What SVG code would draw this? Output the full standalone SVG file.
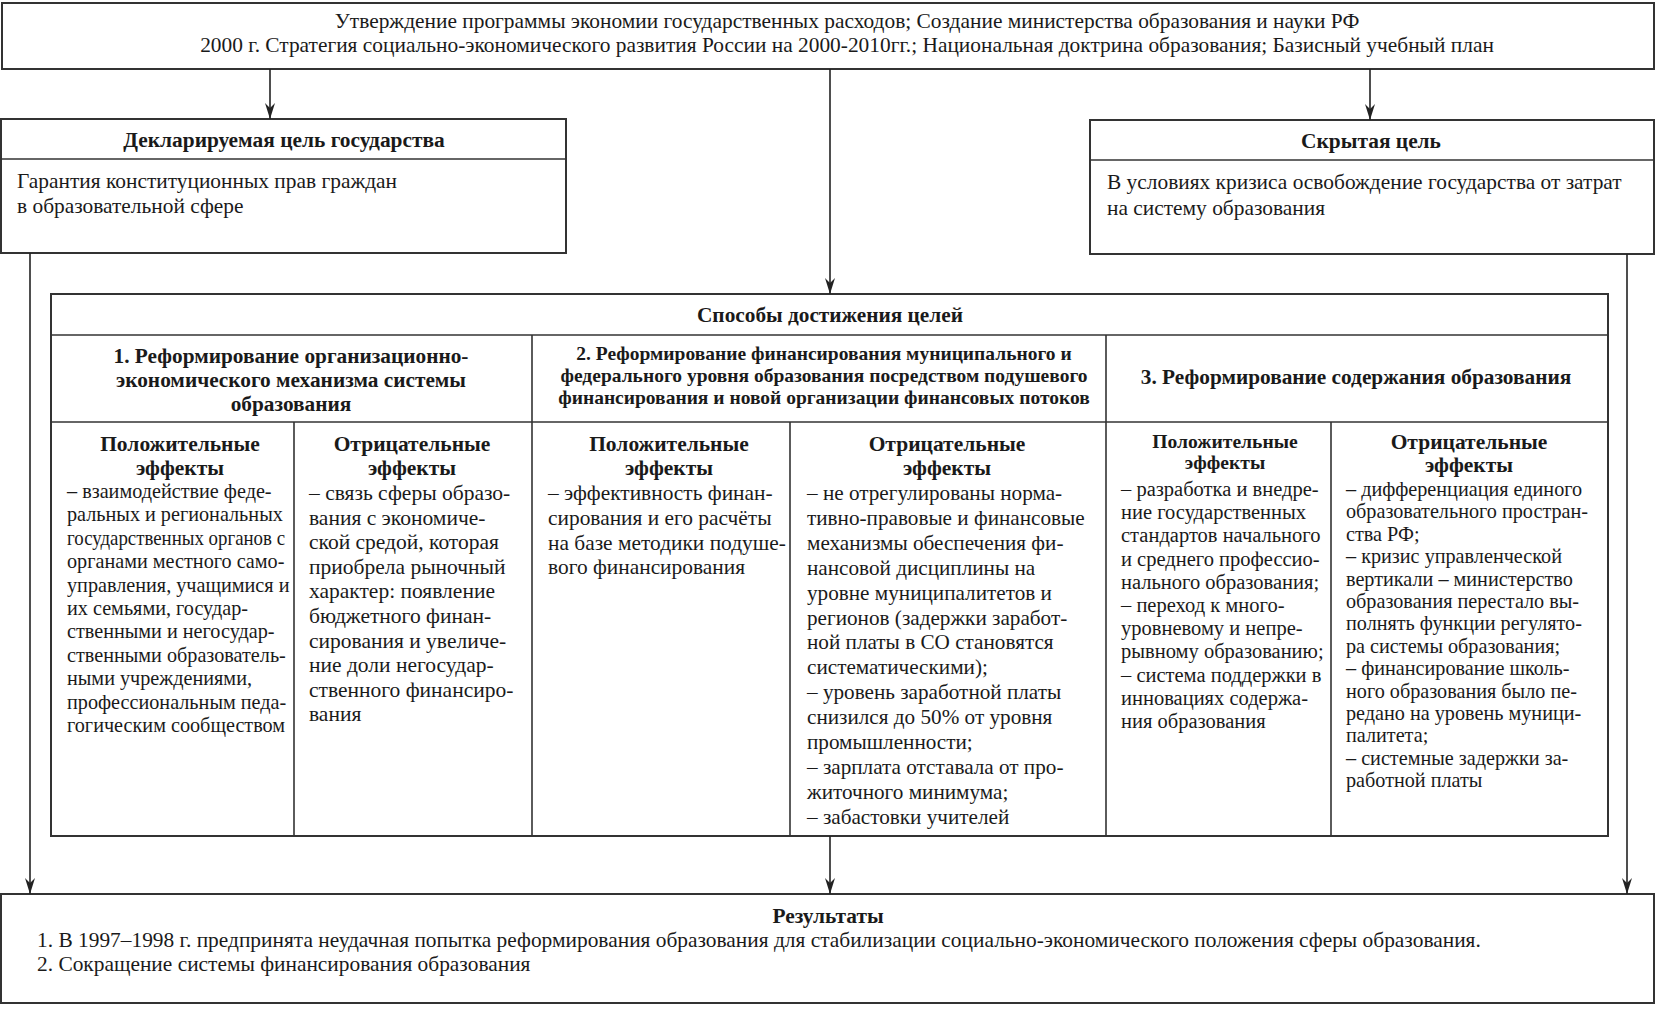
<svg xmlns="http://www.w3.org/2000/svg" width="1656" height="1015" viewBox="0 0 1656 1015" font-family="'Liberation Serif', 'DejaVu Serif', serif">
<style>
text{font-family:"Liberation Serif","DejaVu Serif",serif;fill:#1a1a1a}
.t{font-size:21.4px}
.h{font-size:21.3px}
.h2{font-size:19.5px}
.ch{font-size:21.5px}
.ch5{font-size:19.6px}
.b1{font-size:20.2px}
.b2{font-size:21.5px}
.b3{font-size:21.4px}
.b4{font-size:21.2px}
.b5{font-size:20.5px}
.b6{font-size:20.2px}
.b{font-weight:bold}
.m{text-anchor:middle}
.box{fill:#fff;stroke:#333;stroke-width:2}
.ln{fill:none;stroke:#333;stroke-width:1.6}
.con{fill:none;stroke:#222;stroke-width:1.6}
</style>
<defs>
<marker id="ah" markerUnits="userSpaceOnUse" markerWidth="16" markerHeight="10" refX="16" refY="5" orient="auto" viewBox="0 0 16 10">
<path d="M0,0 L16,5 L0,10 L5,5 Z" fill="#222"/>
</marker>
</defs>
<rect width="1656" height="1015" fill="#fff"/>

<g id="top">
<rect class="box" x="2" y="3" width="1652" height="66"/>
<text class="t m" x="847" y="28">Утверждение программы экономии государственных расходов; Создание министерства образования и науки РФ</text>
<text class="t m" x="847" y="52">2000 г. Стратегия социально-экономического развития России на 2000-2010гг.; Национальная доктрина образования; Базисный учебный план</text>
</g>

<g id="declared">
<rect class="box" x="1" y="119" width="565" height="134"/>
<line class="ln" x1="1" y1="159" x2="566" y2="159"/>
<text class="t b m" x="284" y="147">Декларируемая цель государства</text>
<text class="t" x="17" y="188">Гарантия конституционных прав граждан</text>
<text class="t" x="17" y="213">в образовательной сфере</text>
</g>

<g id="hidden">
<rect class="box" x="1090" y="120" width="564" height="134"/>
<line class="ln" x1="1090" y1="160" x2="1654" y2="160"/>
<text class="t b m" x="1371" y="148">Скрытая цель</text>
<text class="t" x="1107" y="189">В условиях кризиса освобождение государства от затрат</text>
<text class="t" x="1107" y="215">на систему образования</text>
</g>

<g id="methods">
<rect class="box" x="51" y="294" width="1557" height="542"/>
<line class="ln" x1="51" y1="335" x2="1608" y2="335"/>
<line class="ln" x1="51" y1="422" x2="1608" y2="422"/>
<line class="ln" x1="532" y1="335" x2="532" y2="836"/>
<line class="ln" x1="1106" y1="335" x2="1106" y2="836"/>
<line class="ln" x1="294" y1="422" x2="294" y2="836"/>
<line class="ln" x1="790" y1="422" x2="790" y2="836"/>
<line class="ln" x1="1331" y1="422" x2="1331" y2="836"/>
<text class="h b m" x="830" y="322">Способы достижения целей</text>
</g>

<g id="method1">
<text class="h b m" x="291" y="363">1. Реформирование организационно-</text>
<text class="h b m" x="291" y="387">экономического механизма системы</text>
<text class="h b m" x="291" y="411">образования</text>
</g>
<g id="method2">
<text class="h2 b m" x="824" y="360">2. Реформирование финансирования муниципального и</text>
<text class="h2 b m" x="824" y="382">федерального уровня образования посредством подушевого</text>
<text class="h2 b m" x="824" y="404">финансирования и новой организации финансовых потоков</text>
</g>
<g id="method3">
<text class="h b m" x="1356" y="384">3. Реформирование содержания образования</text>
</g>

<g id="pos1">
<text class="ch b m" x="180" y="451">Положительные</text>
<text class="ch b m" x="180" y="475">эффекты</text>
<text class="b1" x="67" y="498">
<tspan x="67">– взаимодействие феде-</tspan>
<tspan x="67" dy="23.4">ральных и региональных</tspan>
</text>
<text class="b1" x="67" y="544.8" textLength="218" lengthAdjust="spacingAndGlyphs">государственных органов с</text>
<text class="b1" x="67" y="568.2">
<tspan x="67">органами местного само-</tspan>
<tspan x="67" dy="23.4">управления, учащимися и</tspan>
<tspan x="67" dy="23.4">их семьями, государ-</tspan>
<tspan x="67" dy="23.4">ственными и негосудар-</tspan>
<tspan x="67" dy="23.4">ственными образователь-</tspan>
<tspan x="67" dy="23.4">ными учреждениями,</tspan>
<tspan x="67" dy="23.4">профессиональным педа-</tspan>
<tspan x="67" dy="23.4">гогическим сообществом</tspan>
</text>
</g>

<g id="neg1">
<text class="ch b m" x="412" y="451">Отрицательные</text>
<text class="ch b m" x="412" y="475">эффекты</text>
<text class="b2" x="309" y="500">
<tspan x="309">– связь сферы образо-</tspan>
<tspan x="309" dy="24.6">вания с экономиче-</tspan>
<tspan x="309" dy="24.6">ской средой, которая</tspan>
<tspan x="309" dy="24.6">приобрела рыночный</tspan>
<tspan x="309" dy="24.6">характер: появление</tspan>
<tspan x="309" dy="24.6">бюджетного финан-</tspan>
<tspan x="309" dy="24.6">сирования и увеличе-</tspan>
<tspan x="309" dy="24.6">ние доли негосудар-</tspan>
<tspan x="309" dy="24.6">ственного финансиро-</tspan>
<tspan x="309" dy="24.6">вания</tspan>
</text>
</g>

<g id="pos2">
<text class="ch b m" x="669" y="451">Положительные</text>
<text class="ch b m" x="669" y="475">эффекты</text>
<text class="b3" x="548" y="500">
<tspan x="548">– эффективность финан-</tspan>
<tspan x="548" dy="24.8">сирования и его расчёты</tspan>
<tspan x="548" dy="24.8">на базе методики подуше-</tspan>
<tspan x="548" dy="24.8">вого финансирования</tspan>
</text>
</g>

<g id="neg2">
<text class="ch b m" x="947" y="451">Отрицательные</text>
<text class="ch b m" x="947" y="475">эффекты</text>
<text class="b4" x="807" y="500">
<tspan x="807">–  не отрегулированы норма-</tspan>
<tspan x="807" dy="24.9">тивно-правовые и финансовые</tspan>
<tspan x="807" dy="24.9">механизмы обеспечения фи-</tspan>
<tspan x="807" dy="24.9">нансовой дисциплины на</tspan>
<tspan x="807" dy="24.9">уровне муниципалитетов и</tspan>
<tspan x="807" dy="24.9">регионов (задержки заработ-</tspan>
<tspan x="807" dy="24.9">ной платы в СО становятся</tspan>
<tspan x="807" dy="24.9">систематическими);</tspan>
<tspan x="807" dy="24.9">– уровень заработной платы</tspan>
<tspan x="807" dy="24.9">снизился до 50% от уровня</tspan>
<tspan x="807" dy="24.9">промышленности;</tspan>
<tspan x="807" dy="24.9">– зарплата отставала от про-</tspan>
<tspan x="807" dy="24.9">житочного минимума;</tspan>
<tspan x="807" dy="24.9">– забастовки учителей</tspan>
</text>
</g>

<g id="pos3">
<text class="ch5 b m" x="1225" y="448">Положительные</text>
<text class="ch5 b m" x="1225" y="469">эффекты</text>
<text class="b5" x="1121" y="496">
<tspan x="1121">– разработка и внедре-</tspan>
<tspan x="1121" dy="23.2">ние государственных</tspan>
<tspan x="1121" dy="23.2">стандартов начального</tspan>
<tspan x="1121" dy="23.2">и среднего профессио-</tspan>
<tspan x="1121" dy="23.2">нального образования;</tspan>
<tspan x="1121" dy="23.2">– переход к много-</tspan>
<tspan x="1121" dy="23.2">уровневому и непре-</tspan>
<tspan x="1121" dy="23.2">рывному образованию;</tspan>
<tspan x="1121" dy="23.2">– система поддержки в</tspan>
<tspan x="1121" dy="23.2">инновациях содержа-</tspan>
<tspan x="1121" dy="23.2">ния образования</tspan>
</text>
</g>

<g id="neg3">
<text class="ch b m" x="1469" y="449">Отрицательные</text>
<text class="ch b m" x="1469" y="472">эффекты</text>
<text class="b6" x="1346" y="496">
<tspan x="1346">– дифференциация единого</tspan>
<tspan x="1346" dy="22.4">образовательного простран-</tspan>
<tspan x="1346" dy="22.4">ства РФ;</tspan>
<tspan x="1346" dy="22.4">– кризис управленческой</tspan>
<tspan x="1346" dy="22.4">вертикали – министерство</tspan>
<tspan x="1346" dy="22.4">образования перестало вы-</tspan>
<tspan x="1346" dy="22.4">полнять функции регулято-</tspan>
<tspan x="1346" dy="22.4">ра системы образования;</tspan>
<tspan x="1346" dy="22.4">– финансирование школь-</tspan>
<tspan x="1346" dy="22.4">ного образования было пе-</tspan>
<tspan x="1346" dy="22.4">редано на уровень муници-</tspan>
<tspan x="1346" dy="22.4">палитета;</tspan>
<tspan x="1346" dy="22.4">– системные задержки за-</tspan>
<tspan x="1346" dy="22.4">работной платы</tspan>
</text>
</g>

<g id="results">
<rect class="box" x="1" y="894" width="1653" height="109"/>
<text class="t b m" x="828" y="923">Результаты</text>
<text class="t" x="37" y="947">1. В 1997–1998 г. предпринята неудачная попытка реформирования образования для стабилизации социально-экономического положения сферы образования.</text>
<text class="t" x="37" y="971">2. Сокращение системы финансирования образования</text>
</g>

<g id="connectors">
<line class="con" x1="270" y1="69" x2="270" y2="119" marker-end="url(#ah)"/>
<line class="con" x1="830" y1="69" x2="830" y2="294" marker-end="url(#ah)"/>
<line class="con" x1="1370" y1="69" x2="1370" y2="120" marker-end="url(#ah)"/>
<line class="con" x1="30" y1="253" x2="30" y2="894" marker-end="url(#ah)"/>
<line class="con" x1="1627" y1="254" x2="1627" y2="894" marker-end="url(#ah)"/>
<line class="con" x1="830" y1="836" x2="830" y2="894" marker-end="url(#ah)"/>
</g>
</svg>
